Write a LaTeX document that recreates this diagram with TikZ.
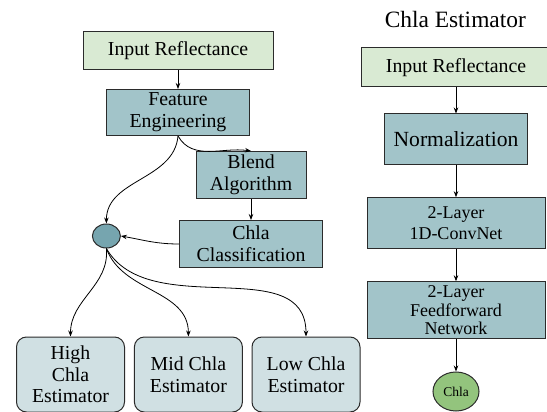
\documentclass[tikz,border=0pt]{standalone}
\usepackage{fontspec}
\setmainfont{Liberation Serif}
\definecolor{inputgreen}{HTML}{D9EAD3}
\definecolor{procteal}{HTML}{A2C4C9}
\definecolor{estpale}{HTML}{D0E0E3}
\definecolor{mergeteal}{HTML}{76A5AF}
\definecolor{chlagreen}{HTML}{93C47D}
\definecolor{boxline}{HTML}{2B2B2B}
\usetikzlibrary{shapes, arrows.meta, positioning}

\begin{document}
\begin{tikzpicture}[x=1pt, y=-1pt,
    box/.style={draw=boxline, line width=1pt, align=center, inner sep=0pt,
                font=\fontsize{19.8}{21.7}\selectfont},
    inbox/.style={box, fill=inputgreen},
    procbox/.style={box, fill=procteal},
    estbox/.style={box, fill=estpale, rounded corners=10pt,
                   minimum width=108pt, minimum height=75pt},
    flow/.style={-{Stealth[length=6pt, width=4.5pt]}, line width=0.8pt}]
  \useasboundingbox (0,0) rectangle (547,412);

  \node[inbox, minimum width=190pt, minimum height=38pt] (inL) at (178,51) {Input Reflectance};
  \node[procbox, minimum width=143pt, minimum height=46pt] (feat) at (178,112.5) {Feature\\Engineering};
  \node[procbox, minimum width=110pt, minimum height=47pt] (blend) at (251,175) {Blend\\Algorithm};
  \node[procbox, minimum width=143pt, minimum height=47pt] (cls) at (251,244) {Chla\\Classification};
  \node[ellipse, draw=boxline, line width=1pt, fill=mergeteal, inner sep=0pt,
        minimum width=28pt, minimum height=24pt] (merge) at (106.4,236) {};
  \node[estbox] (high) at (70.5,374.5) {High\\Chla\\Estimator};
  \node[estbox] (mid) at (188.4,374.5) {Mid Chla\\Estimator};
  \node[estbox] (low) at (306,374.5) {Low Chla\\Estimator};

  \node[font=\fontsize{23.4}{26}\selectfont] (title) at (455.3,19) {Chla Estimator};
  \node[inbox, minimum width=190pt, minimum height=39pt] (inR) at (456,67.2) {Input Reflectance};
  \node[procbox, minimum width=143pt, minimum height=50pt,
        font=\fontsize{21.6}{24}\selectfont] (norm) at (456,139) {Normalization};
  \node[procbox, minimum width=178pt, minimum height=50.6pt,
        font=\fontsize{18}{20.7}\selectfont] (conv) at (456,223) {2-Layer\\1D-ConvNet};
  \node[procbox, minimum width=178pt, minimum height=57pt,
        font=\fontsize{18}{18.7}\selectfont] (ffn) at (456,310.3) {2-Layer\\Feedforward\\Network};
  \node[ellipse, draw=boxline, line width=1pt, fill=chlagreen, inner sep=0pt,
        minimum width=46pt, minimum height=39pt,
        font=\fontsize{13.5}{15}\selectfont] (chla) at (456,391.5) {Chla};

  \draw[flow] (inL) -- (feat);
  \draw[flow] (feat.south) to[out=-60, in=172] (blend.north);
  \draw[flow] (feat.south) to[out=-95, in=90] (merge.north);
  \draw[flow] (blend) -- (cls);
  \draw[flow] (cls.west) to[out=180, in=-10] (merge.east);
  \draw[flow] (merge.south) to[out=-85, in=90] (high.north);
  \draw[flow] (merge.south) to[out=-70, in=90] (mid.north);
  \draw[flow] (merge.south) to[out=-60, in=90] (low.north);

  \draw[flow] (inR) -- (norm);
  \draw[flow] (norm) -- (conv);
  \draw[flow] (conv) -- (ffn);
  \draw[flow] (ffn) -- (chla);
\end{tikzpicture}
\end{document}
